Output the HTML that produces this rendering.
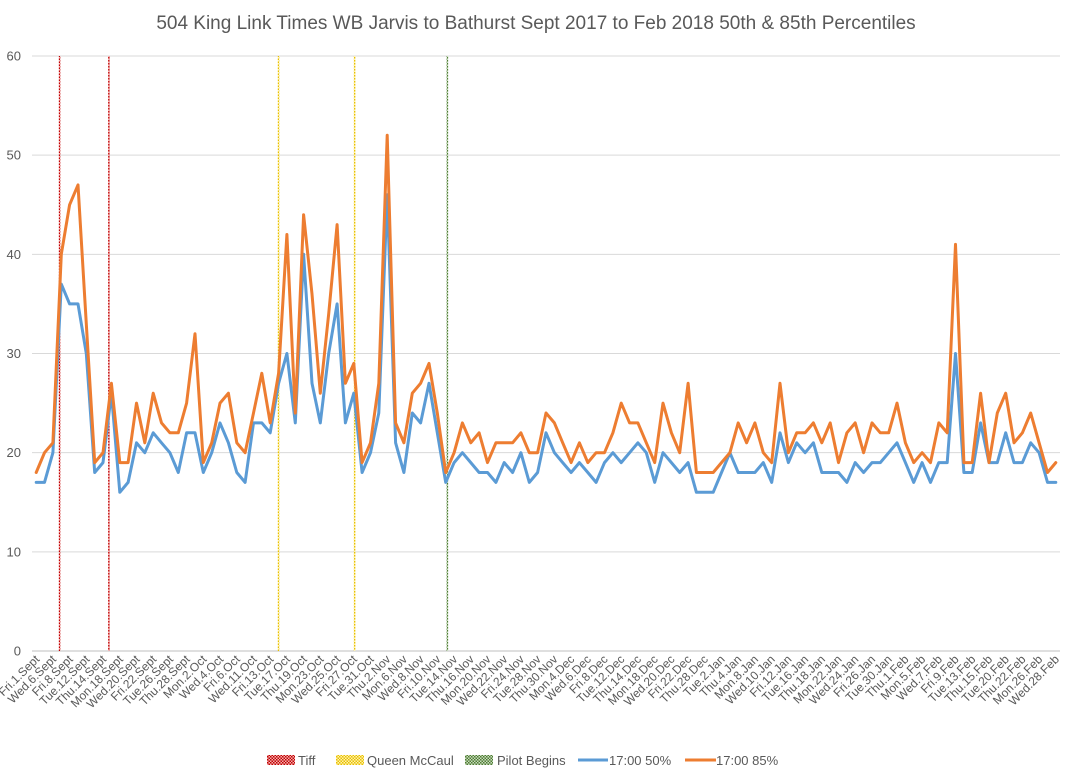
<!DOCTYPE html>
<html><head><meta charset="utf-8">
<style>
html,body{margin:0;padding:0;background:#fff;}
svg{display:block;font-family:"Liberation Sans",sans-serif;}
</style></head>
<body>
<svg id="chart" width="1067" height="782" viewBox="0 0 1067 782" xmlns="http://www.w3.org/2000/svg">
<defs>
<pattern id="pRed" width="3" height="3" patternUnits="userSpaceOnUse"><rect width="3" height="3" fill="#f4b0b0"/><rect width="1.5" height="1.5" fill="#c00000"/><rect x="1.5" y="1.5" width="1.5" height="1.5" fill="#c00000"/></pattern>
<pattern id="pYel" width="3" height="3" patternUnits="userSpaceOnUse"><rect width="3" height="3" fill="#fff2b0"/><rect width="1.5" height="1.5" fill="#e8c000"/><rect x="1.5" y="1.5" width="1.5" height="1.5" fill="#e8c000"/></pattern>
<pattern id="pGrn" width="3" height="3" patternUnits="userSpaceOnUse"><rect width="3" height="3" fill="#c8dcc0"/><rect width="1.5" height="1.5" fill="#4e7a30"/><rect x="1.5" y="1.5" width="1.5" height="1.5" fill="#4e7a30"/></pattern>
</defs>
<text x="536" y="29" text-anchor="middle" font-size="19" fill="#595959">504 King Link Times WB Jarvis to Bathurst Sept 2017 to Feb 2018 50th &amp; 85th Percentiles</text>
<g id="grid"></g>
<g id="yticks"></g>
<g id="markers"></g>
<g id="series"></g>
<g id="xlabels"></g>
<g id="legend">
  <rect x="267" y="755" width="28" height="10" fill="url(#pRed)"/>
  <text x="298" y="765" font-size="13" fill="#595959">Tiff</text>
  <rect x="336" y="755" width="28" height="10" fill="url(#pYel)"/>
  <text x="367" y="765" font-size="13" fill="#595959">Queen McCaul</text>
  <rect x="465" y="755" width="28" height="10" fill="url(#pGrn)"/>
  <text x="497" y="765" font-size="13" fill="#595959">Pilot Begins</text>
  <line x1="578" y1="760" x2="608" y2="760" stroke="#5b9bd5" stroke-width="3"/>
  <text x="609" y="765" font-size="13" fill="#595959">17:00 50%</text>
  <line x1="685" y1="760" x2="716" y2="760" stroke="#ed7d31" stroke-width="3"/>
  <text x="716" y="765" font-size="13" fill="#595959">17:00 85%</text>
</g>
</svg>
<script>
const yTicks = [0,10,20,30,40,50,60];
const p50 = [17,17,20,37,35,35,30,18,19,26,16,17,21,20,22,21,20,18,22,22,18,20,23,21,18,17,23,23,22,27,30,23,40,27,23,30,35,23,26,18,20,24,46,21,18,24,23,27,22,17,19,20,19,18,18,17,19,18,20,17,18,22,20,19,18,19,18,17,19,20,19,20,21,20,17,20,19,18,19,16,16,16,18,20,18,18,18,19,17,22,19,21,20,21,18,18,18,17,19,18,19,19,20,21,19,17,19,17,19,19,30,18,18,23,19,19,22,19,19,21,20,17,17];
const p85 = [18,20,21,40,45,47,33,19,20,27,19,19,25,21,26,23,22,22,25,32,19,21,25,26,21,20,24,28,23,28,42,24,44,36,26,34,43,27,29,19,21,27,52,23,21,26,27,29,24,18,20,23,21,22,19,21,21,21,22,20,20,24,23,21,19,21,19,20,20,22,25,23,23,21,19,25,22,20,27,18,18,18,19,20,23,21,23,20,19,27,20,22,22,23,21,23,19,22,23,20,23,22,22,25,21,19,20,19,23,22,41,19,19,26,19,24,26,21,22,24,21,18,19];
const markerNames = ["tiff-start","tiff-end","queen-mccaul-start","queen-mccaul-end","pilot-begins"];
const markerPos = [2.8,8.7,29.0,38.1,49.2];
const markerFill = ["url(#pRed)","url(#pRed)","url(#pYel)","url(#pYel)","url(#pGrn)"];
const excluded = ["2017-09-04","2017-10-09","2017-12-25","2017-12-26","2018-01-01","2018-02-19"];
const dayNames = ["Sun","Mon","Tue","Wed","Thu","Fri","Sat"];
const monNames = ["Jan","Feb","Mar","Apr","May","Jun","Jul","Aug","Sept","Oct","Nov","Dec"];
const categories = [];
(function(){
  const d = new Date(Date.UTC(2017,8,1));
  const end = new Date(Date.UTC(2018,1,28));
  while (d <= end) {
    const wd = d.getUTCDay();
    const iso = d.toISOString().slice(0,10);
    if (wd>0 && wd<6 && excluded.indexOf(iso)<0) categories.push(dayNames[wd]+"."+d.getUTCDate()+"."+monNames[d.getUTCMonth()]);
    d.setUTCDate(d.getUTCDate()+1);
  }
})();

const NS="http://www.w3.org/2000/svg";
const L=32, R=1060, T=56, B=651, YMAX=60;
const n = categories.length;
const step=(R-L)/n;
function xAt(i){return L+step*(i+0.5);}
function yAt(v){return B-(v/YMAX)*(B-T);}
function mk(tag,attrs,parent){const e=document.createElementNS(NS,tag);for(const k in attrs)e.setAttribute(k,attrs[k]);parent.appendChild(e);return e;}

const grid=document.getElementById('grid'), yt=document.getElementById('yticks');
yTicks.forEach(v=>{
  const ln=mk('line',{x1:L,x2:R,y1:yAt(v),y2:yAt(v),stroke:v===0?'#bfbfbf':'#d9d9d9','stroke-width':1},grid);
  
  
  const t=mk('text',{x:21,y:yAt(v)+4.5,'text-anchor':'end','font-size':13,fill:'#595959'},yt);
  t.textContent=v;
  
  
});

const mg=document.getElementById('markers');
markerPos.forEach((p,k)=>{
  const r=mk('rect',{x:xAt(p)-0.75,y:T,width:1.5,height:B-T,fill:markerFill[k]},mg);
  
  
});

const sg=document.getElementById('series');
function drawLine(vals,color,name){
  const pts=vals.map((v,i)=>xAt(i).toFixed(1)+','+yAt(v).toFixed(1)).join(' ');
  const pl=mk('polyline',{points:pts,fill:'none',stroke:color,'stroke-width':3,'stroke-linejoin':'round','stroke-linecap':'round'},sg);
  
  
}
drawLine(p50,'#5b9bd5','series-17-00-50pct');
drawLine(p85,'#ed7d31','series-17-00-85pct');

const xg=document.getElementById('xlabels');
categories.forEach((c,i)=>{
  if(i%2!==0) return;
  const x=xAt(i)+4, y=B+9;
  const t=mk('text',{x:x,y:y,'text-anchor':'end','font-size':12,fill:'#595959',transform:'rotate(-45 '+x+' '+y+')'},xg);
  t.textContent=c;
  
  
});
</script>
</body></html>
